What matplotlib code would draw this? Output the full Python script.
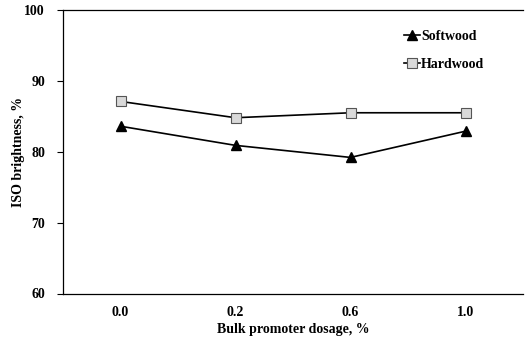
import numpy as np
import matplotlib.pyplot as plt

# --- Data ---
dosage = ["0.0", "0.2", "0.6", "1.0"]
softwood = [83.6, 80.9, 79.2, 82.9]
hardwood = [87.1, 84.8, 85.5, 85.5]

plt.rcParams['font.family'] = ['Liberation Serif', 'DejaVu Serif']
plt.rcParams['font.weight'] = 'bold'

fig = plt.figure(figsize=(5.28, 3.38), dpi=100)
ax = fig.add_axes([63/528, 1 - 293.5/338, 460/528, 283.5/338])

x = np.arange(len(dosage))
ax.plot(x, softwood, color='black', lw=1.2, marker='^', ms=7,
        mfc='black', mec='black', label='Softwood')
ax.plot(x, hardwood, color='black', lw=1.2, marker='s', ms=6.5,
        mfc='#d9d9d9', mec='#555555', mew=0.8, label='Hardwood')

ax.set_xlim(-0.5, 3.5)
ax.set_ylim(60, 100)
ax.set_yticks([60, 70, 80, 90, 100])
ax.set_xticks(x)
ax.set_xticklabels(dosage)
ax.tick_params(axis='x', length=0, pad=9, labelsize=10)
ax.tick_params(axis='y', direction='out', length=4, width=0.8, pad=9, labelsize=10)
ax.spines['right'].set_visible(False)
for s in ['left', 'top', 'bottom']:
    ax.spines[s].set_linewidth(0.9)

ax.set_xlabel('Bulk promoter dosage, %', fontsize=10, fontweight='bold', labelpad=3)
ax.set_ylabel('ISO brightness, %', fontsize=10, fontweight='bold')
ax.yaxis.set_label_coords(-38/460, 0.5)

ax.legend(loc='upper right', bbox_to_anchor=(0.937, 0.965), frameon=False,
          handlelength=1.15, handletextpad=0.05, labelspacing=1.1, fontsize=10,
          borderaxespad=0.3)

fig.savefig('out.png', dpi=100)
